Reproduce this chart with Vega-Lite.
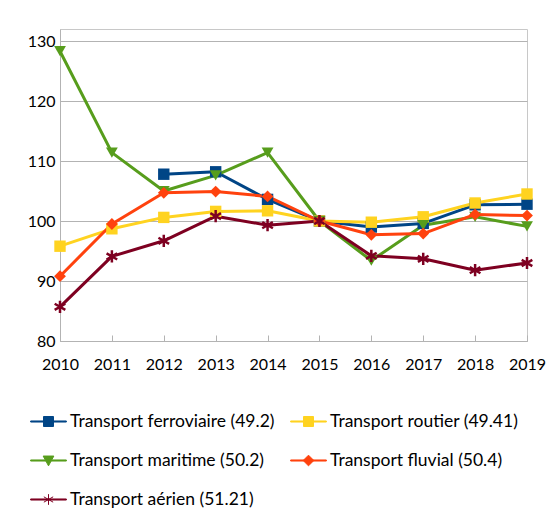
{
  "$schema": "https://vega.github.io/schema/vega-lite/v6.json",
  "width": 467,
  "height": 312,
  "autosize": "none",
  "padding": {"left": 60, "top": 29, "right": 19, "bottom": 182},
  "background": "white",
  "config": {
    "view": {"stroke": "#c8c8c8", "strokeWidth": 1},
    "font": "Lato",
    "axis": {"labelFont": "Lato", "labelFontSize": 16, "labelColor": "#000000", "domainColor": "#b3b3b3", "tickColor": "#b3b3b3", "gridColor": "#b3b3b3", "title": null}
  },
  "data": {
    "values": [
      {"year": 2012, "series": "Transport ferroviaire (49.2)", "value": 107.8},
      {"year": 2013, "series": "Transport ferroviaire (49.2)", "value": 108.2},
      {"year": 2014, "series": "Transport ferroviaire (49.2)", "value": 103.6},
      {"year": 2015, "series": "Transport ferroviaire (49.2)", "value": 100.0},
      {"year": 2016, "series": "Transport ferroviaire (49.2)", "value": 99.0},
      {"year": 2017, "series": "Transport ferroviaire (49.2)", "value": 99.6},
      {"year": 2018, "series": "Transport ferroviaire (49.2)", "value": 102.7},
      {"year": 2019, "series": "Transport ferroviaire (49.2)", "value": 102.8},
      {"year": 2010, "series": "Transport routier (49.41)", "value": 95.8},
      {"year": 2011, "series": "Transport routier (49.41)", "value": 98.7},
      {"year": 2012, "series": "Transport routier (49.41)", "value": 100.6},
      {"year": 2013, "series": "Transport routier (49.41)", "value": 101.6},
      {"year": 2014, "series": "Transport routier (49.41)", "value": 101.7},
      {"year": 2015, "series": "Transport routier (49.41)", "value": 100.0},
      {"year": 2016, "series": "Transport routier (49.41)", "value": 99.8},
      {"year": 2017, "series": "Transport routier (49.41)", "value": 100.7},
      {"year": 2018, "series": "Transport routier (49.41)", "value": 103.0},
      {"year": 2019, "series": "Transport routier (49.41)", "value": 104.5},
      {"year": 2010, "series": "Transport maritime (50.2)", "value": 128.3},
      {"year": 2011, "series": "Transport maritime (50.2)", "value": 111.4},
      {"year": 2012, "series": "Transport maritime (50.2)", "value": 105.0},
      {"year": 2013, "series": "Transport maritime (50.2)", "value": 107.6},
      {"year": 2014, "series": "Transport maritime (50.2)", "value": 111.4},
      {"year": 2015, "series": "Transport maritime (50.2)", "value": 100.0},
      {"year": 2016, "series": "Transport maritime (50.2)", "value": 93.4},
      {"year": 2017, "series": "Transport maritime (50.2)", "value": 99.3},
      {"year": 2018, "series": "Transport maritime (50.2)", "value": 100.7},
      {"year": 2019, "series": "Transport maritime (50.2)", "value": 99.1},
      {"year": 2010, "series": "Transport fluvial (50.4)", "value": 90.8},
      {"year": 2011, "series": "Transport fluvial (50.4)", "value": 99.5},
      {"year": 2012, "series": "Transport fluvial (50.4)", "value": 104.7},
      {"year": 2013, "series": "Transport fluvial (50.4)", "value": 104.9},
      {"year": 2014, "series": "Transport fluvial (50.4)", "value": 104.1},
      {"year": 2015, "series": "Transport fluvial (50.4)", "value": 100.0},
      {"year": 2016, "series": "Transport fluvial (50.4)", "value": 97.7},
      {"year": 2017, "series": "Transport fluvial (50.4)", "value": 97.9},
      {"year": 2018, "series": "Transport fluvial (50.4)", "value": 101.1},
      {"year": 2019, "series": "Transport fluvial (50.4)", "value": 100.9},
      {"year": 2010, "series": "Transport aérien (51.21)", "value": 85.7},
      {"year": 2011, "series": "Transport aérien (51.21)", "value": 94.1},
      {"year": 2012, "series": "Transport aérien (51.21)", "value": 96.7},
      {"year": 2013, "series": "Transport aérien (51.21)", "value": 100.8},
      {"year": 2014, "series": "Transport aérien (51.21)", "value": 99.3},
      {"year": 2015, "series": "Transport aérien (51.21)", "value": 100.0},
      {"year": 2016, "series": "Transport aérien (51.21)", "value": 94.2},
      {"year": 2017, "series": "Transport aérien (51.21)", "value": 93.7},
      {"year": 2018, "series": "Transport aérien (51.21)", "value": 91.8},
      {"year": 2019, "series": "Transport aérien (51.21)", "value": 93.0}
    ]
  },
  "encoding": {
    "x": {
      "field": "year", "type": "quantitative",
      "scale": {"domain": [2010, 2019], "nice": false, "zero": false},
      "axis": {"values": [2010, 2011, 2012, 2013, 2014, 2015, 2016, 2017, 2018, 2019], "format": "d", "grid": false, "tickSize": -6, "labelPadding": 21, "labelFlush": false, "labelOverlap": false}
    },
    "y": {
      "field": "value", "type": "quantitative",
      "scale": {"domain": [80, 132], "nice": false, "zero": false},
      "axis": {"values": [80, 90, 100, 110, 120, 130], "grid": true, "ticks": false, "labelPadding": 5}
    },
    "color": {
      "field": "series", "type": "nominal",
      "scale": {
        "domain": ["Transport ferroviaire (49.2)", "Transport routier (49.41)", "Transport maritime (50.2)", "Transport fluvial (50.4)", "Transport aérien (51.21)"],
        "range": ["#004586", "#ffd320", "#579d1c", "#ff420e", "#7e0021"]
      },
      "legend": {
        "title": null,
        "orient": "none",
        "legendX": -30,
        "legendY": 374,
        "direction": "horizontal",
        "columns": 2,
        "columnPadding": 13,
        "rowPadding": 12,
        "padding": 0,
        "symbolSize": 1275,
        "symbolStrokeWidth": 1,
        "labelOffset": 3,
        "labelFont": "Lato",
        "labelFontSize": 17.5,
        "labelColor": "#000000",
        "labelLimit": 400,
        "encode": {
          "symbols": {
            "update": {
              "shape": {"signal": "['M-1,-0.03H1V0.03H-1ZM-0.28,-0.28H0.28V0.28H-0.28Z','M-1,-0.03H1V0.03H-1ZM-0.28,-0.28H0.28V0.28H-0.28Z','M-1,-0.03H1V0.03H-1ZM-0.3,-0.25H0.3L0,0.3Z','M-1,-0.03H1V0.03H-1ZM0,-0.3L0.3,0L0,0.3L-0.3,0Z','M-1,-0.03H1V0.03H-1ZM0,-0.3V0.3M-0.26,-0.15L0.26,0.15M-0.26,0.15L0.26,-0.15'][indexof(['Transport ferroviaire (49.2)','Transport routier (49.41)','Transport maritime (50.2)','Transport fluvial (50.4)','Transport aérien (51.21)'], datum.value)]"},
              "strokeWidth": {"value": 1},
              "opacity": {"value": 1}
            }
          }
        }
      }
    }
  },
  "layer": [
    {
      "mark": {"type": "line", "strokeWidth": 3, "strokeJoin": "round"}
    },
    {
      "transform": [{"filter": {"field": "series", "oneOf": ["Transport ferroviaire (49.2)", "Transport routier (49.41)"]}}],
      "mark": {"type": "point", "shape": "square", "filled": true, "opacity": 1, "size": 130}
    },
    {
      "transform": [{"filter": {"field": "series", "equal": "Transport maritime (50.2)"}}],
      "mark": {"type": "point", "shape": "triangle-down", "filled": true, "opacity": 1, "size": 140}
    },
    {
      "transform": [{"filter": {"field": "series", "equal": "Transport fluvial (50.4)"}}],
      "mark": {"type": "point", "shape": "diamond", "filled": true, "opacity": 1, "size": 140}
    },
    {
      "transform": [{"filter": {"field": "series", "equal": "Transport aérien (51.21)"}}],
      "mark": {"type": "point", "shape": "M0,-1V1M-0.87,-0.5L0.87,0.5M-0.87,0.5L0.87,-0.5", "filled": false, "opacity": 1, "strokeWidth": 2.5, "size": 150}
    }
  ]
}
